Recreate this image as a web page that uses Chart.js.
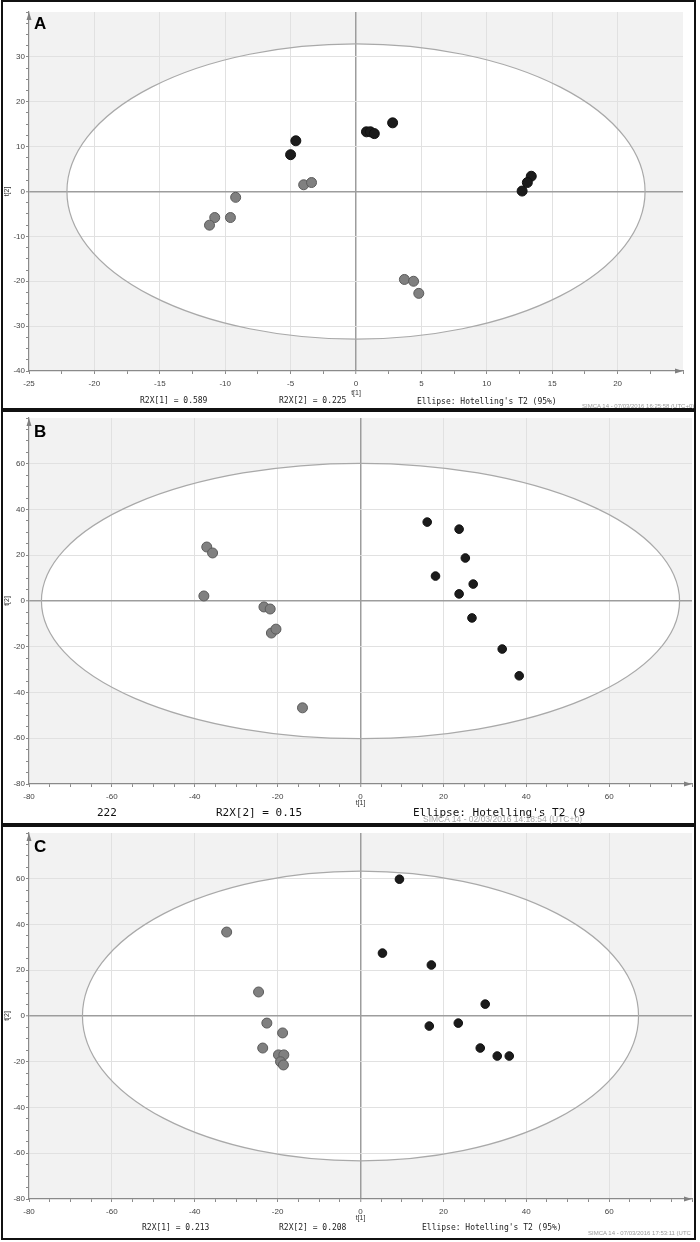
<!DOCTYPE html>
<html><head><meta charset="utf-8">
<script src="https://cdn.jsdelivr.net/npm/chart.js@4"></script>
<style>
body{margin:0;background:#fff;width:700px;height:1242px;position:relative;overflow:hidden;font-family:'Liberation Sans',sans-serif}
.wrap{position:absolute;left:0;width:700px}
.panel{position:absolute;left:1px;width:695px;border:2px solid #111;box-sizing:border-box;z-index:5;overflow:hidden}
.t{position:absolute;white-space:nowrap;z-index:6}
.lbl{font-weight:bold;font-size:17px;line-height:17px;color:#000}
.m8{font-family:'DejaVu Sans Mono',monospace;font-size:8px;line-height:10px;color:#222}
.m11{font-family:'DejaVu Sans Mono',monospace;font-size:11px;line-height:13px;color:#111}
.s6{font-size:6px;line-height:8px;color:#999}
.s8{font-size:8.5px;line-height:10px;color:#aaa}
</style></head>
<body>
<div class="wrap" style="top:0;height:405px"><canvas id="cA" width="700" height="405"></canvas></div>
<div class="wrap" style="top:411px;height:413px"><canvas id="cB" width="700" height="413"></canvas></div>
<div class="wrap" style="top:826px;height:413px"><canvas id="cC" width="700" height="413"></canvas></div>

<div class="panel" style="top:0px;height:410px"></div>
<div class="panel" style="top:410px;height:415px"></div>
<div class="panel" style="top:825px;height:415px"></div>

<div class="t lbl" style="left:34px;top:14.6px">A</div>
<div class="t m8" style="left:140px;top:396px">R2X[1] = 0.589</div>
<div class="t m8" style="left:279px;top:396px">R2X[2] = 0.225</div>
<div class="t m8" style="left:417px;top:397px">Ellipse: Hotelling's T2 (95%)</div>
<div class="t s6" style="left:582px;top:402px">SIMCA 14 - 07/03/2016 16:25:58 (UTC+0)</div>

<div class="t lbl" style="left:34px;top:422.6px">B</div>
<div class="t m11" style="left:97px;top:805.5px">222</div>
<div class="t m11" style="left:216px;top:805.5px">R2X[2] = 0.15</div>
<div class="t m11" style="left:413px;top:805.5px">Ellipse: Hotelling's T2 (9</div>
<div class="t s8" style="left:423px;top:814px">SIMCA 14 - 02/03/2016 14:18:54 (UTC+0)</div>

<div class="t lbl" style="left:34px;top:837.6px">C</div>
<div class="t m8" style="left:142px;top:1223px">R2X[1] = 0.213</div>
<div class="t m8" style="left:279px;top:1223px">R2X[2] = 0.208</div>
<div class="t m8" style="left:422px;top:1223px">Ellipse: Hotelling's T2 (95%)</div>
<div class="t s6" style="left:588px;top:1229px">SIMCA 14 - 07/03/2016 17:53:11 (UTC</div>

<script>
// ---- Panel A data ----
const A_grey_t1  = [-9.2, -4.0, -3.4, -10.8, -11.2, -9.6, 3.7, 4.4, 4.8];
const A_grey_t2  = [-1.3, 1.5, 2.0, -5.8, -7.5, -5.8, -19.6, -20.0, -22.7];
const A_black_t1 = [-5.0, -4.6, 0.8, 1.1, 1.4, 2.8, 13.4, 13.1, 12.7];
const A_black_t2 = [8.2, 11.3, 13.3, 13.3, 12.9, 15.3, 3.4, 2.0, 0.1];
const A_t1_range = [-25, 25];
const A_t2_range = [-40, 40];
const A_ellipse  = [22.1, 32.9];
// ---- Panel B data ----
const B_grey_t1  = [-37.1, -35.7, -37.8, -23.3, -21.8, -21.5, -20.4, -14.0];
const B_grey_t2  = [23.6, 21.0, 2.2, -2.6, -3.5, -14.0, -12.3, -46.7];
const B_black_t1 = [16.1, 23.8, 25.3, 18.1, 27.2, 23.8, 26.9, 34.2, 38.3];
const B_black_t2 = [34.5, 31.4, 18.8, 10.9, 7.4, 3.1, -7.4, -21.0, -32.7];
const B_t1_range = [-80, 80];
const B_t2_range = [-80, 80];
const B_ellipse  = [77.0, 60.2];
// ---- Panel C data ----
const C_grey_t1  = [-32.3, -24.6, -22.6, -18.8, -23.6, -19.8, -18.5, -19.3, -18.6];
const C_grey_t2  = [36.7, 10.5, -3.1, -7.4, -14.0, -17.0, -17.0, -20.0, -21.4];
const C_black_t1 = [9.4, 5.3, 17.1, 30.1, 16.6, 23.6, 28.9, 33.0, 35.9];
const C_black_t2 = [59.8, 27.5, 22.3, 5.2, -4.4, -3.1, -14.0, -17.5, -17.5];
const C_t1_range = [-80, 80];
const C_t2_range = [-80, 80];
const C_ellipse  = [67.1, 63.3];
// tick steps [major, minor]
const A_t1_steps = [5, 2.5];
const A_t2_steps = [10, 2.5];
const BC_steps   = [20, 5];
const axisTitles = ['t[1]', 't[2]'];

const isMult = (v, m) => Math.abs(v / m - Math.round(v / m)) < 1e-6;
const pts = (xs, ys) => xs.map((x, i) => ({x, y: ys[i]}));

const ellipsePlugin = {
  id: 'hotelling',
  beforeDraw(chart, args, o) {
    const {ctx, chartArea: a, scales: {x, y}} = chart;
    const cx = x.getPixelForValue(0), cy = y.getPixelForValue(0);
    const rx = Math.abs(x.getPixelForValue(o.r[0]) - cx);
    const ry = Math.abs(y.getPixelForValue(o.r[1]) - cy);
    ctx.save();
    ctx.fillStyle = '#f2f2f2';
    ctx.fillRect(a.left, a.top, a.right - a.left, a.bottom - a.top);
    ctx.beginPath(); ctx.ellipse(cx, cy, rx, ry, 0, 0, Math.PI * 2);
    ctx.fillStyle = '#ffffff'; ctx.fill();
    ctx.restore();
  },
  beforeDatasetsDraw(chart, args, o) {
    const {ctx, scales: {x, y}} = chart;
    const cx = x.getPixelForValue(0), cy = y.getPixelForValue(0);
    const rx = Math.abs(x.getPixelForValue(o.r[0]) - cx);
    const ry = Math.abs(y.getPixelForValue(o.r[1]) - cy);
    ctx.save();
    ctx.beginPath(); ctx.ellipse(cx, cy, rx, ry, 0, 0, Math.PI * 2);
    ctx.strokeStyle = '#a9a9a9'; ctx.lineWidth = 1.2; ctx.stroke();
    ctx.restore();
  },
  afterDraw(chart) {
    const {ctx, chartArea: a} = chart;
    ctx.save();
    ctx.fillStyle = '#808080';
    ctx.beginPath();
    ctx.moveTo(a.left, a.top); ctx.lineTo(a.left - 2.5, a.top + 8); ctx.lineTo(a.left + 2.5, a.top + 8); ctx.closePath(); ctx.fill();
    ctx.beginPath();
    ctx.moveTo(a.right, a.bottom); ctx.lineTo(a.right - 8, a.bottom - 2.5); ctx.lineTo(a.right - 8, a.bottom + 2.5); ctx.closePath(); ctx.fill();
    ctx.restore();
  }
};

function axis(range, steps, isX, title, titlePad, size) {
  const [major, minor] = steps;
  return {
    type: 'linear', min: range[0], max: range[1],
    afterFit(s) {
      if (isX) s.height = size; else s.width = size;
      s.paddingTop = 0; s.paddingBottom = 0; s.paddingLeft = 0; s.paddingRight = 0;
    },
    ticks: {
      stepSize: minor, autoSkip: false, maxRotation: 0, minRotation: 0,
      padding: isX ? 5 : 1, color: '#444',
      font: {family: 'Liberation Sans', size: 8},
      callback: v => (isMult(v, major) && v !== range[1]) ? String(v) : ''
    },
    grid: {
      color: c => {
        const v = c.tick.value;
        if (Math.abs(v) < 1e-9) return '#9d9d9d';
        if (v === range[0] || v === range[1]) return 'rgba(0,0,0,0)';
        return isMult(v, major) ? '#e1e1e1' : 'rgba(0,0,0,0)';
      },
      lineWidth: c => Math.abs(c.tick.value) < 1e-9 ? 1.5 : 1,
      tickColor: '#8a8a8a', tickWidth: 1, tickLength: 3, drawTicks: true
    },
    border: {display: true, color: '#8a8a8a', width: 1.2},
    title: {display: true, text: title, color: '#333',
      font: {family: 'Liberation Sans', size: 7}, padding: titlePad}
  };
}

function makeChart(id, grey, black, blackR, xr, yr, xs, ys, ell, pad, xTitlePad) {
  return new Chart(document.getElementById(id), {
    type: 'scatter',
    data: {datasets: [
      {data: grey, pointRadius: 5, backgroundColor: '#808080', borderColor: '#5c5c5c', borderWidth: 1, pointHoverRadius: 5},
      {data: black, pointRadius: blackR, backgroundColor: '#1b1b1b', borderColor: '#111', borderWidth: 1, pointHoverRadius: blackR}
    ]},
    options: {
      responsive: false, animation: false, events: [],
      layout: {padding: pad},
      plugins: {legend: {display: false}, tooltip: {enabled: false}, hotelling: {r: ell}},
      scales: {
        x: axis(xr, xs, true, axisTitles[0], {top: 0, bottom: xTitlePad}, 30),
        y: axis(yr, ys, false, axisTitles[1], {top: 3, bottom: 0}, 29)
      }
    },
    plugins: [ellipsePlugin]
  });
}

makeChart('cA', pts(A_grey_t1, A_grey_t2), pts(A_black_t1, A_black_t2), 5,
  A_t1_range, A_t2_range, A_t1_steps, A_t2_steps, A_ellipse,
  {top: 12, right: 17, bottom: 4, left: 0}, 4);
makeChart('cB', pts(B_grey_t1, B_grey_t2), pts(B_black_t1, B_black_t2), 4.3,
  B_t1_range, B_t2_range, BC_steps, BC_steps, B_ellipse,
  {top: 7, right: 8, bottom: 10, left: 0}, 7);
makeChart('cC', pts(C_grey_t1, C_grey_t2), pts(C_black_t1, C_black_t2), 4.3,
  C_t1_range, C_t2_range, BC_steps, BC_steps, C_ellipse,
  {top: 7, right: 8, bottom: 10, left: 0}, 7);
</script>
</body></html>
